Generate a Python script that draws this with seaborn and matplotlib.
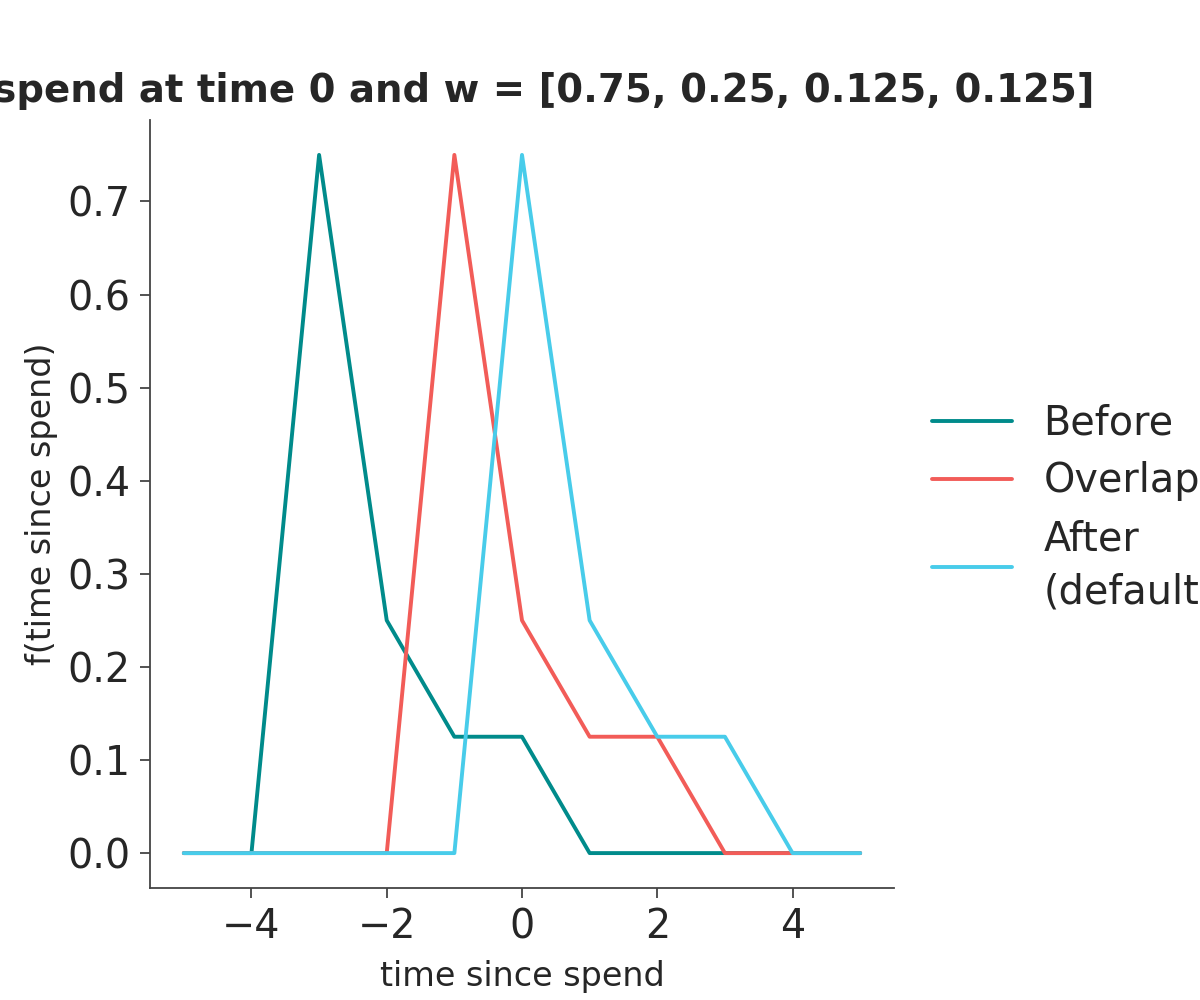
import numpy as np
import pandas as pd
import matplotlib
matplotlib.use("Agg")
import matplotlib.pyplot as plt
import seaborn as sns

time_since_spend = [-5, -4, -3, -2, -1, 0, 1, 2, 3, 4, 5]
before = [0, 0, 0.75, 0.25, 0.125, 0.125, 0, 0, 0, 0, 0]
overlap = [0, 0, 0, 0, 0.75, 0.25, 0.125, 0.125, 0, 0, 0]
after = [0, 0, 0, 0, 0, 0.75, 0.25, 0.125, 0.125, 0, 0]
series_names = ["Before", "Overlap", "After\n(default)"]
colors = ["#008B8B", "#F25C58", "#48CCEA"]
title = "A spend at time 0 and w = [0.75, 0.25, 0.125, 0.125]"

df = pd.DataFrame({
    "time since spend": time_since_spend * 3,
    "f(time since spend)": before + overlap + after,
    "kind": sum([[n] * len(time_since_spend) for n in series_names], []),
})

sns.set_theme(style="ticks")
plt.rcParams["font.family"] = ["DejaVu Sans"]

fig = plt.figure(figsize=(12, 10), dpi=100)
ax = fig.add_axes([0.125, 0.112, 0.62, 0.768])
sns.lineplot(data=df, x="time since spend", y="f(time since spend)", hue="kind",
             palette=colors, linewidth=2.8, ax=ax, legend=True)
sns.despine(ax=ax)

ax.set_yticks(np.arange(0, 0.71, 0.1))
ax.set_xticks([-4, -2, 0, 2, 4])
ax.tick_params(labelsize=28.5, length=7, width=1.3, pad=7, color="#444444")
for s in ax.spines.values():
    s.set_color("#444444")
    s.set_linewidth(1.3)
ax.set_xlabel("time since spend", fontsize=24, labelpad=9)
ax.set_ylabel("f(time since spend)", fontsize=24, labelpad=7)
ax.set_title(title, fontsize=27.8, fontweight="bold", pad=13)

handles, labels = ax.get_legend_handles_labels()
ax.get_legend().remove()
leg = fig.legend(handles, labels, loc="center left", bbox_to_anchor=(0.747, 0.492),
                 frameon=False, fontsize=28.6, handlelength=2, labelspacing=0.45)
for t in leg.get_texts():
    t.set_linespacing(1.42)

fig.savefig("out.png", dpi=100)
